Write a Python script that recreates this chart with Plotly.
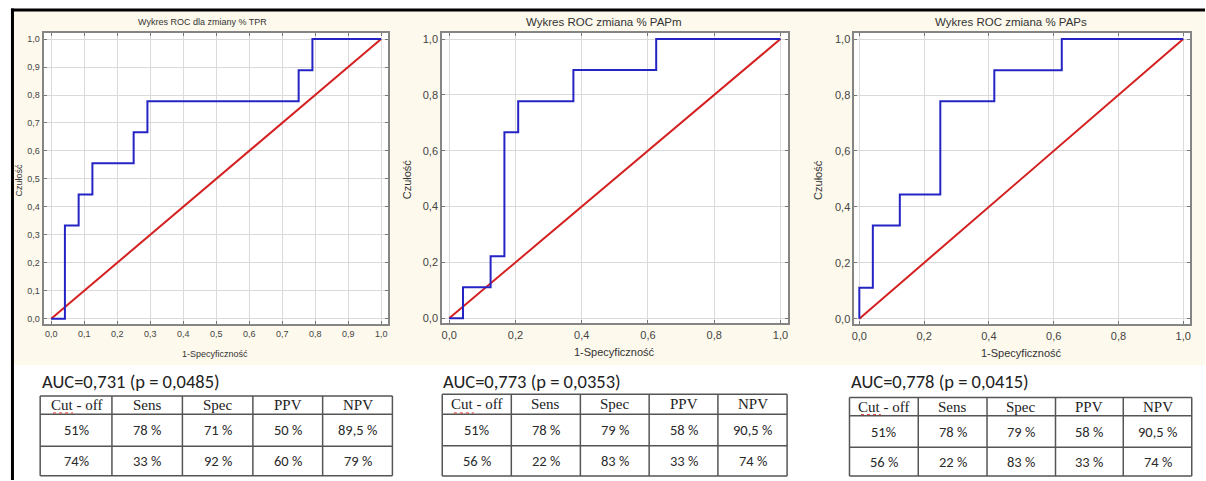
import plotly.graph_objects as go

# ---------------- data ----------------
titles = ["Wykres ROC dla zmiany % TPR", "Wykres ROC zmiana % PAPm", "Wykres ROC zmiana % PAPs"]
x_title = "1-Specyficzność"
y_title = "Czułość"

fpr_tpr = [0.0, 0.0417, 0.0417, 0.0833, 0.0833, 0.125, 0.125, 0.25, 0.25, 0.2917, 0.2917, 0.75, 0.75, 0.7917, 0.7917, 1.0]
tpr_tpr = [0.0, 0.0, 0.3333, 0.3333, 0.4444, 0.4444, 0.5556, 0.5556, 0.6667, 0.6667, 0.7778, 0.7778, 0.8889, 0.8889, 1.0, 1.0]

fpr_papm = [0.0, 0.0417, 0.0417, 0.125, 0.125, 0.1667, 0.1667, 0.2083, 0.2083, 0.375, 0.375, 0.625, 0.625, 1.0]
tpr_papm = [0.0, 0.0, 0.1111, 0.1111, 0.2222, 0.2222, 0.6667, 0.6667, 0.7778, 0.7778, 0.8889, 0.8889, 1.0, 1.0]

fpr_paps = [0.0, 0.0, 0.0417, 0.0417, 0.125, 0.125, 0.25, 0.25, 0.4167, 0.4167, 0.625, 0.625, 1.0]
tpr_paps = [0.0, 0.1111, 0.1111, 0.3333, 0.3333, 0.4444, 0.4444, 0.7778, 0.7778, 0.8889, 0.8889, 1.0, 1.0]

ref_line = [0.0, 1.0]

auc_texts = ["AUC=0,731 (p = 0,0485)", "AUC=0,773 (p = 0,0353)", "AUC=0,778 (p = 0,0415)"]
table_header = ["Cut - off", "Sens", "Spec", "PPV", "NPV"]
table1_rows = [["51%", "78 %", "71 %", "50 %", "89,5 %"],
               ["74%", "33 %", "92 %", "60 %", "79 %"]]
table2_rows = [["51%", "78 %", "79 %", "58 %", "90,5 %"],
               ["56 %", "22 %", "83 %", "33 %", "74 %"]]
table3_rows = [["51%", "78 %", "79 %", "58 %", "90,5 %"],
               ["56 %", "22 %", "83 %", "33 %", "74 %"]]

# ---------------- layout helpers ----------------
W, H = 1206, 481
def X(px): return px / W
def Y(py): return 1 - py / H

BEIGE = "#FDF9EC"
BLUE = "#2424C4"
RED = "#D42020"
GRID = "#DADADA"
FRAME = "#858585"

panels = [
    dict(x=(40.7, 386.7), y=(33.3, 325), xr=[-0.023, 1.022], yr=[-0.02, 1.021], dtick=0.1,
         fs=9, font="Liberation Sans Narrow, Arial Narrow, Liberation Sans", title_xy=(200, 22.5),
         xt_xy=(213, 355), yt_xy=(16, 180), data=(fpr_tpr, tpr_tpr)),
    dict(x=(440.7, 787.3), y=(33.3, 324), xr=[-0.021, 1.022], yr=[-0.018, 1.021], dtick=0.2,
         fs=11, font="Liberation Sans, Arial", title_xy=(603.5, 22.5),
         xt_xy=(613.5, 353), yt_xy=(405, 180), data=(fpr_papm, tpr_papm)),
    dict(x=(854.3, 1191), y=(33.3, 325), xr=[-0.015, 1.021], yr=[-0.02, 1.021], dtick=0.2,
         fs=11, font="Liberation Sans, Arial", title_xy=(1011.5, 22.5),
         xt_xy=(1021.5, 354), yt_xy=(817, 180), data=(fpr_paps, tpr_paps)),
]

tables = [
    dict(cols=[37.3, 109.3, 180, 250.7, 320.7, 390.7], rows=[396.7, 415, 447.3, 476.7],
         auc_xy=(37, 382.5), data=table1_rows),
    dict(cols=[440.7, 510, 579.3, 648.3, 717.3, 786.7], rows=[395, 415, 446.7, 477],
         auc_xy=(439.5, 382.5), data=table2_rows),
    dict(cols=[849.3, 918.3, 987.3, 1056, 1124, 1192.7], rows=[398.3, 416.7, 448.3, 477],
         auc_xy=(848.5, 382.5), data=table3_rows),
]

fig = go.Figure()
layout = dict(width=W, height=H, margin=dict(l=0, r=0, t=0, b=0), autosize=False,
              paper_bgcolor="white", plot_bgcolor="rgba(0,0,0,0)", showlegend=False,
              separators=",.", font=dict(family="Liberation Sans, Arial", color="#333"))
shapes = []
annotations = []

# beige chart background and black frame lines
shapes.append(dict(type="rect", xref="paper", yref="paper", x0=X(11), x1=X(1206), y0=Y(366), y1=Y(11),
                   fillcolor=BEIGE, line=dict(width=0), layer="below"))
for p in panels:
    shapes.append(dict(type="rect", xref="paper", yref="paper", x0=X(p["x"][0]), x1=X(p["x"][1]),
                       y0=Y(p["y"][1]), y1=Y(p["y"][0]), fillcolor="white", line=dict(width=0), layer="below"))
shapes.append(dict(type="line", xref="paper", yref="paper", x0=X(8), x1=X(1206), y0=Y(10), y1=Y(10),
                   line=dict(color="black", width=3)))
shapes.append(dict(type="line", xref="paper", yref="paper", x0=X(9.5), x1=X(9.5), y0=Y(8.5), y1=Y(481),
                   line=dict(color="black", width=3)))

for i, p in enumerate(panels):
    k = "" if i == 0 else str(i + 1)
    xa, ya = "x" + k, "y" + k
    fx, fy = p["data"]
    fig.add_trace(go.Scatter(x=ref_line, y=ref_line, mode="lines", line=dict(color=RED, width=2),
                             xaxis=xa, yaxis=ya, hoverinfo="skip"))
    fig.add_trace(go.Scatter(x=fx, y=fy, mode="lines", line=dict(color=BLUE, width=2),
                             xaxis=xa, yaxis=ya))
    common = dict(showgrid=True, gridcolor=GRID, gridwidth=1, zeroline=False,
                  showline=True, mirror="ticks", linecolor=FRAME, linewidth=2,
                  ticks="inside", ticklen=3, tickcolor="#777", tickwidth=1,
                  tickformat=".1f", dtick=p["dtick"], tick0=0,
                  tickfont=dict(family=p["font"], size=p["fs"], color="#444"),
                  fixedrange=True)
    layout["xaxis" + k] = dict(common, domain=[X(p["x"][0]), X(p["x"][1])], range=p["xr"], anchor=ya)
    layout["yaxis" + k] = dict(common, domain=[Y(p["y"][1]), Y(p["y"][0])], range=p["yr"], anchor=xa)
    tfs = p["fs"] if i == 0 else 11.5
    annotations.append(dict(xref="paper", yref="paper", x=X(p["title_xy"][0]), y=Y(p["title_xy"][1]),
                            text=titles[i], showarrow=False, xanchor="center", yanchor="middle",
                            font=dict(family=p["font"], size=tfs, color="#333")))
    annotations.append(dict(xref="paper", yref="paper", x=X(p["xt_xy"][0]), y=Y(p["xt_xy"][1]),
                            text=x_title, showarrow=False, xanchor="center", yanchor="middle",
                            font=dict(family=p["font"], size=p["fs"], color="#333")))
    annotations.append(dict(xref="paper", yref="paper", x=X(p["yt_xy"][0]), y=Y(p["yt_xy"][1]),
                            text=y_title, showarrow=False, xanchor="center", yanchor="middle", textangle=-90,
                            font=dict(family=p["font"], size=p["fs"], color="#333")))

# tables
for i, t in enumerate(tables):
    cols, rows = t["cols"], t["rows"]
    annotations.append(dict(xref="paper", yref="paper", x=X(t["auc_xy"][0]), y=Y(t["auc_xy"][1]),
                            text=auc_texts[i], showarrow=False, xanchor="left", yanchor="middle",
                            font=dict(family="Carlito, Lato, Liberation Sans", size=18.5, color="#222")))
    for cx in cols:
        shapes.append(dict(type="line", xref="paper", yref="paper", x0=X(cx), x1=X(cx),
                           y0=Y(rows[0]), y1=Y(rows[-1]), line=dict(color="#555", width=1.5)))
    for ry in rows:
        shapes.append(dict(type="line", xref="paper", yref="paper", x0=X(cols[0]), x1=X(cols[-1]),
                           y0=Y(ry), y1=Y(ry), line=dict(color="#555", width=1.5)))
    for j, h in enumerate(table_header):
        annotations.append(dict(xref="paper", yref="paper", x=X((cols[j] + cols[j + 1]) / 2),
                                y=Y((rows[0] + rows[1]) / 2), text=h, showarrow=False,
                                xanchor="center", yanchor="middle",
                                font=dict(family="Liberation Serif, Times New Roman", size=15, color="#222")))
    # red spell-check underline under "Cut"
    cxm = (cols[0] + cols[1]) / 2
    shapes.append(dict(type="line", xref="paper", yref="paper", x0=X(cxm - 23), x1=X(cxm - 3),
                       y0=Y(rows[1] - 1.2), y1=Y(rows[1] - 1.2), line=dict(color="#E03030", width=1, dash="dot")))
    for r, row in enumerate(t["data"]):
        for j, v in enumerate(row):
            annotations.append(dict(xref="paper", yref="paper", x=X((cols[j] + cols[j + 1]) / 2),
                                    y=Y((rows[r + 1] + rows[r + 2]) / 2), text=v, showarrow=False,
                                    xanchor="center", yanchor="middle",
                                    font=dict(family="Carlito, Lato, Liberation Sans", size=14.5, color="#2a2a2a")))

layout["shapes"] = shapes
layout["annotations"] = annotations
fig.update_layout(**layout)
fig.write_html("out.html", config={"displayModeBar": False},
               post_script="document.body.style.margin='0';document.body.style.overflow='hidden';")
